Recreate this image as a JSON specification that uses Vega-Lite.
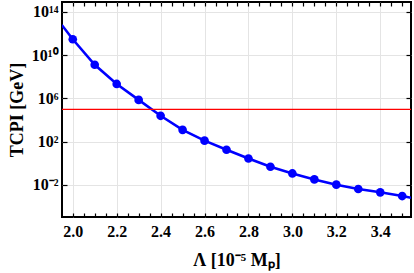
{
  "$schema": "https://vega.github.io/schema/vega-lite/v6.json",
  "width": 349,
  "height": 215,
  "autosize": {"type": "none"},
  "padding": {"left": 62, "top": 2, "right": 3, "bottom": 56},
  "background": "white",
  "config": {
    "view": {"stroke": "black", "strokeWidth": 2},
    "font": "Liberation Serif",
    "axis": {"domain": false, "labelFont": "Liberation Serif", "titleFont": "Liberation Serif", "labelFontWeight": "bold", "titleFontWeight": "bold", "labelColor": "black", "titleColor": "black", "tickColor": "black", "gridColor": "#e4e4e4", "gridWidth": 1}
  },
  "datasets": {
    "curve": [
      {"lam": 1.95, "T": 6.3e12},
      {"lam": 2.0, "T": 3.0e11},
      {"lam": 2.1, "T": 1.3e9},
      {"lam": 2.2, "T": 2.2e7},
      {"lam": 2.3, "T": 7.4e5},
      {"lam": 2.4, "T": 2.5e4},
      {"lam": 2.5, "T": 1260},
      {"lam": 2.6, "T": 126},
      {"lam": 2.7, "T": 18},
      {"lam": 2.8, "T": 2.8},
      {"lam": 2.9, "T": 0.49},
      {"lam": 3.0, "T": 0.117},
      {"lam": 3.1, "T": 0.033},
      {"lam": 3.2, "T": 0.0107},
      {"lam": 3.3, "T": 0.0043},
      {"lam": 3.4, "T": 0.0021},
      {"lam": 3.5, "T": 0.00095},
      {"lam": 3.54, "T": 0.00066}
    ],
    "pts": [
      {"lam": 2.0, "T": 3.0e11},
      {"lam": 2.1, "T": 1.3e9},
      {"lam": 2.2, "T": 2.2e7},
      {"lam": 2.3, "T": 7.4e5},
      {"lam": 2.4, "T": 2.5e4},
      {"lam": 2.5, "T": 1260},
      {"lam": 2.6, "T": 126},
      {"lam": 2.7, "T": 18},
      {"lam": 2.8, "T": 2.8},
      {"lam": 2.9, "T": 0.49},
      {"lam": 3.0, "T": 0.117},
      {"lam": 3.1, "T": 0.033},
      {"lam": 3.2, "T": 0.0107},
      {"lam": 3.3, "T": 0.0043},
      {"lam": 3.4, "T": 0.0021},
      {"lam": 3.5, "T": 0.00095}
    ],
    "ref": [{"T": 1e5}]
  },
  "layer": [
    {
      "data": {"name": "curve"},
      "mark": {"type": "line", "color": "#0000ff", "strokeWidth": 2.6, "clip": true},
      "encoding": {
        "x": {
          "field": "lam", "type": "quantitative",
          "scale": {"domain": [1.951, 3.54], "nice": false, "zero": false},
          "axis": {
            "orient": "bottom",
            "title": "Λ [10⁻⁵ Mₚ]",
            "titleFontSize": 18,
            "titlePadding": 12,
            "values": [2.0, 2.05, 2.1, 2.15, 2.2, 2.25, 2.3, 2.35, 2.4, 2.45, 2.5, 2.55, 2.6, 2.65, 2.7, 2.75, 2.8, 2.85, 2.9, 2.95, 3.0, 3.05, 3.1, 3.15, 3.2, 3.25, 3.3, 3.35, 3.4, 3.45, 3.5],
            "format": ".1f",
            "labelExpr": "abs(datum.value*5 - round(datum.value*5)) < 0.001 ? datum.label : ''",
            "labelFontSize": 16,
            "labelPadding": 10,
            "tickSize": -4,
            "tickWidth": 1.2,
            "grid": true,
            "gridOpacity": {"condition": {"test": "abs(datum.value*5 - round(datum.value*5)) < 0.001", "value": 1}, "value": 0}
          }
        },
        "y": {
          "field": "T", "type": "quantitative",
          "scale": {"type": "log", "domain": [1.1e-5, 8.3e14], "nice": false},
          "axis": {
            "orient": "left",
            "title": "TCPI [GeV]",
            "titleFontSize": 18,
            "titlePadding": 5,
            "values": [0.01, 100, 1000000, 10000000000, 100000000000000],
            "labelExpr": "datum.value < 1 ? '10⁻²' : datum.value < 1000 ? '10²' : datum.value < 1e7 ? '10⁶' : datum.value < 1e11 ? '10¹⁰' : '10¹⁴'",
            "labelFontSize": 16,
            "labelPadding": 9,
            "tickSize": -5,
            "tickWidth": 1.2,
            "grid": true
          }
        }
      }
    },
    {
      "data": {"name": "pts"},
      "mark": {"type": "point", "filled": true, "color": "#0000ff", "opacity": 1, "size": 75},
      "encoding": {
        "x": {
          "field": "lam", "type": "quantitative",
          "axis": {
            "orient": "top", "title": null, "labels": false, "grid": false,
            "values": [2.0, 2.05, 2.1, 2.15, 2.2, 2.25, 2.3, 2.35, 2.4, 2.45, 2.5, 2.55, 2.6, 2.65, 2.7, 2.75, 2.8, 2.85, 2.9, 2.95, 3.0, 3.05, 3.1, 3.15, 3.2, 3.25, 3.3, 3.35, 3.4, 3.45, 3.5],
            "tickSize": -4, "tickWidth": 1.2
          }
        },
        "y": {
          "field": "T", "type": "quantitative",
          "axis": {
            "orient": "right", "title": null, "labels": false, "grid": false,
            "values": [0.01, 100, 1000000, 10000000000, 100000000000000],
            "tickSize": -5, "tickWidth": 1.2
          }
        }
      }
    },
    {
      "data": {"name": "ref"},
      "mark": {"type": "rule", "color": "#ff0000", "strokeWidth": 1.3},
      "encoding": {
        "y": {"field": "T", "type": "quantitative", "axis": null}
      }
    }
  ]
}
